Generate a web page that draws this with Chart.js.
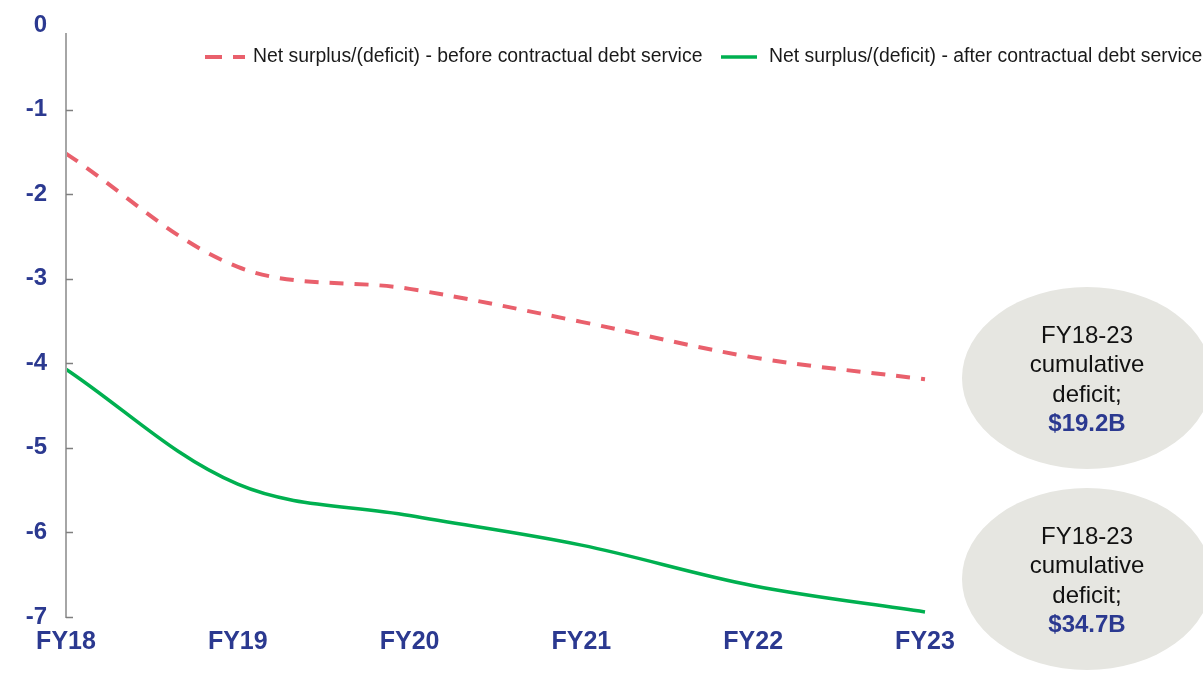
<!DOCTYPE html>
<html lang="en">
  <head>
    <meta charset="UTF-8" />
    <title>Net surplus/(deficit)</title>
    <script src="https://cdn.jsdelivr.net/npm/chart.js"></script>
    <style>
      body {
        margin: 0;
        background: #ffffff;
      }
      #wrap {
        width: 1203px;
        height: 688px;
      }
    </style>
  </head>
  <body>
    <div id="wrap"><canvas id="deficitChart" width="1203" height="688"></canvas></div>

    <script>
      // data ($B)
      const years = ["FY18", "FY19", "FY20", "FY21", "FY22", "FY23"];
      const beforeDebt = [-1.52, -2.86, -3.12, -3.51, -3.93, -4.19];
      const afterDebt = [-4.07, -5.43, -5.8, -6.15, -6.63, -6.94];
      const legendLabels = [
        "Net surplus/(deficit) - before contractual debt service",
        "Net surplus/(deficit) - after contractual debt service",
      ];
      const bubbleLines = [
        ["FY18-23", "cumulative", "deficit;", "$19.2B"],
        ["FY18-23", "cumulative", "deficit;", "$34.7B"],
      ];

      const navy = "#2B3990";
      const red = "#E9606C";
      const green = "#00B050";
      const font = "'Liberation Sans', Arial, sans-serif";

      // y axis line with short ticks pointing into the plot
      const axisPlugin = {
        id: "axisLine",
        afterDraw(chart) {
          const c = chart.ctx;
          const y = chart.scales.y;
          const x0 = chart.chartArea.left;
          c.save();
          c.strokeStyle = "#A6A6A6";
          c.lineWidth = 2;
          c.beginPath();
          c.moveTo(x0, y.getPixelForValue(0) + 8);
          c.lineTo(x0, y.getPixelForValue(-7) + 1);
          c.stroke();
          c.lineWidth = 1.5;
          c.strokeStyle = "#7F7F7F";
          for (let v = -1; v >= -7; v--) {
            const py = Math.round(y.getPixelForValue(v)) + 0.5;
            c.beginPath();
            c.moveTo(x0, py);
            c.lineTo(x0 + 7, py);
            c.stroke();
          }
          c.restore();
        },
      };

      // legend across the top right
      const legendPlugin = {
        id: "topLegend",
        afterDraw(chart) {
          const c = chart.ctx;
          c.save();
          c.font = "19.4px " + font;
          c.fillStyle = "#1A1A1A";
          c.textBaseline = "middle";
          c.lineCap = "butt";
          // dashed sample
          c.strokeStyle = red;
          c.lineWidth = 4;
          c.setLineDash([17, 11]);
          c.beginPath();
          c.moveTo(205, 57);
          c.lineTo(245, 57);
          c.stroke();
          c.setLineDash([]);
          c.fillText(legendLabels[0], 253, 57);
          // solid sample
          c.strokeStyle = green;
          c.lineWidth = 3.5;
          c.beginPath();
          c.moveTo(721, 57);
          c.lineTo(757, 57);
          c.stroke();
          c.fillText(legendLabels[1], 769, 57);
          c.restore();
        },
      };

      // grey ovals with the cumulative totals
      const bubblePlugin = {
        id: "bubbles",
        afterDraw(chart) {
          const c = chart.ctx;
          const centres = [378, 579];
          c.save();
          centres.forEach((cy, i) => {
            c.fillStyle = "#E6E6E1";
            c.beginPath();
            c.ellipse(1087, cy, 125, 91, 0, 0, Math.PI * 2);
            c.fill();
            c.textAlign = "center";
            c.textBaseline = "middle";
            bubbleLines[i].forEach((t, j) => {
              const last = j === bubbleLines[i].length - 1;
              c.font = (last ? "bold " : "") + "24px " + font;
              c.fillStyle = last ? navy : "#111111";
              c.fillText(t, 1087, cy - 42 + j * 29.5);
            });
          });
          c.restore();
        },
      };

      const ctx = document.getElementById("deficitChart").getContext("2d");
      const deficitChart = new Chart(ctx, {
        type: "line",
        data: {
          labels: years,
          datasets: [
            {
              label: legendLabels[0],
              data: beforeDebt,
              borderColor: red,
              borderWidth: 4,
              borderDash: [14, 11],
              pointRadius: 0,
              tension: 0.35,
              fill: false,
            },
            {
              label: legendLabels[1],
              data: afterDebt,
              borderColor: green,
              borderWidth: 3.5,
              pointRadius: 0,
              tension: 0.35,
              fill: false,
            },
          ],
        },
        options: {
          responsive: false,
          animation: false,
          layout: {
            padding: { top: 25, right: 278, bottom: 0, left: 0 },
          },
          plugins: {
            legend: { display: false },
            tooltip: { enabled: false },
          },
          scales: {
            x: {
              offset: false,
              grid: { display: false, drawTicks: false },
              border: { display: false },
              ticks: {
                color: navy,
                font: { family: font, size: 25, weight: "bold" },
                padding: 10,
                maxRotation: 0,
              },
              afterFit(s) {
                s.height = 71;
              },
            },
            y: {
              min: -7,
              max: 0,
              grid: { display: false, drawTicks: false },
              border: { display: false },
              ticks: {
                stepSize: 1,
                color: navy,
                font: { family: font, size: 24, weight: "bold" },
                padding: 19,
              },
              afterFit(s) {
                s.width = 66;
                s.paddingTop = 0;
              },
            },
          },
        },
        plugins: [axisPlugin, legendPlugin, bubblePlugin],
      });
    </script>
  </body>
</html>
